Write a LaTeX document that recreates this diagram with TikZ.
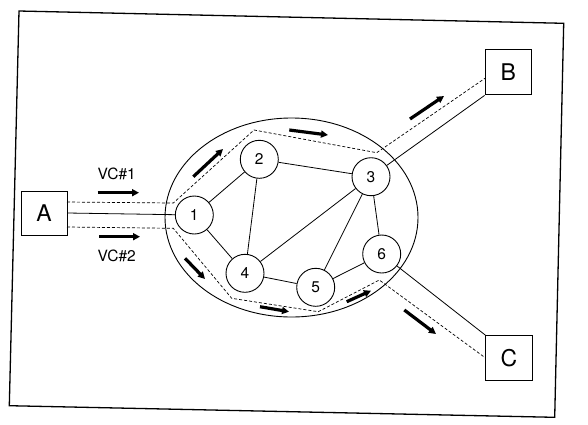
\documentclass[tikz,border=0pt]{standalone}
\usepackage{fontspec}
\setmainfont{TeX Gyre Heros}
\usetikzlibrary{arrows.meta,shapes.geometric}
\begin{document}
\begin{tikzpicture}[x=1pt,y=-1pt,
  box/.style={draw, line width=1pt, inner sep=0pt, font=\fontsize{23}{25}\selectfont},
  rnode/.style={circle, draw, line width=0.9pt, minimum size=38pt, inner sep=0pt, fill=white, font=\fontsize{15.5}{17}\selectfont},
  cloud/.style={ellipse, draw, line width=0.9pt, inner sep=0pt, minimum width=253pt, minimum height=199pt},
  link/.style={line width=0.8pt},
  vc/.style={line width=0.7pt, dash pattern=on 3pt off 2pt},
  flow/.style={line width=3.2pt, -{Triangle[length=7pt,width=7pt]}},
  lbl/.style={font=\fontsize{15.5}{17}\selectfont}
]
\useasboundingbox (0,0) rectangle (588,424);
% frame
\draw[line width=1.3pt] (19,11) -- (563.7,23.3) -- (554.7,417.3) -- (9.3,405.7) -- cycle;

% network cloud
\node[cloud] (net) at (291.5,217.5) {};

% end systems
\node[box, minimum width=46pt, minimum height=44pt] (A) at (44,213) {A};
\node[box, minimum width=46.5pt, minimum height=45.5pt] (B) at (508.3,72.2) {B};
\node[box, minimum width=46.5pt, minimum height=44.5pt] (C) at (509,357.8) {C};

% virtual circuit paths
\coordinate (v1a) at (67,202);
\coordinate (v1b) at (173.3,203);
\coordinate (v1c) at (254,130);
\coordinate (v1d) at (376.7,152.7);
\coordinate (v1e) at (485,78.3);
\draw[vc] (v1a) -- (v1b) -- (v1c) -- (v1d) -- (v1e);

\coordinate (v2a) at (67,227);
\coordinate (v2b) at (173.3,228.3);
\coordinate (v2c) at (231.7,298.3);
\coordinate (v2d) at (318.3,311.7);
\coordinate (v2e) at (379.3,280);
\draw[vc] (v2a) -- (v2b) -- (v2c) -- (v2d) -- (v2e) -- (C.west);

% switching nodes
\node[rnode] (n1) at (194.3,215) {1};
\node[rnode] (n2) at (259.3,159.3) {2};
\node[rnode] (n3) at (371,176.7) {3};
\node[rnode] (n4) at (245,273.3) {4};
\node[rnode] (n5) at (315.7,287.3) {5};
\node[rnode] (n6) at (381.7,254) {6};

% links
\draw[link] (A.east) -- (n1);
\draw[link] (n1) -- (n2);
\draw[link] (n1) -- (n4);
\draw[link] (n2) -- (n4);
\draw[link] (n2) -- (n3);
\draw[link] (n3) -- (n4);
\draw[link] (n3) -- (n5);
\draw[link] (n3) -- (n6);
\draw[link] (n4) -- (n5);
\draw[link] (n5) -- (n6);
\draw[link] (n3) -- (B.south west);
\draw[link] (n6) -- (C.north west);

% flow arrows
\coordinate (f1s) at (97.7,192.7);   \coordinate (f1e) at (139,192.7);
\coordinate (f2s) at (99,236.7);     \coordinate (f2e) at (140,236.7);
\coordinate (f3s) at (193.3,176.7);  \coordinate (f3e) at (223,149);
\coordinate (f4s) at (289.3,130);    \coordinate (f4e) at (328,135);
\coordinate (f5s) at (410,119);      \coordinate (f5e) at (444,96);
\coordinate (f6s) at (185,258.3);    \coordinate (f6e) at (205,279);
\coordinate (f7s) at (260,306.7);    \coordinate (f7e) at (289,311.7);
\coordinate (f8s) at (346.7,301.7);  \coordinate (f8e) at (371,290.7);
\coordinate (f9s) at (404.3,310);    \coordinate (f9e) at (436,334);
\foreach \i in {1,...,9} \draw[flow] (f\i s) -- (f\i e);

% labels
\node[lbl] (vc1) at (116.7,174) {VC\#1};
\node[lbl] (vc2) at (116.7,256) {VC\#2};
\end{tikzpicture}
\end{document}
